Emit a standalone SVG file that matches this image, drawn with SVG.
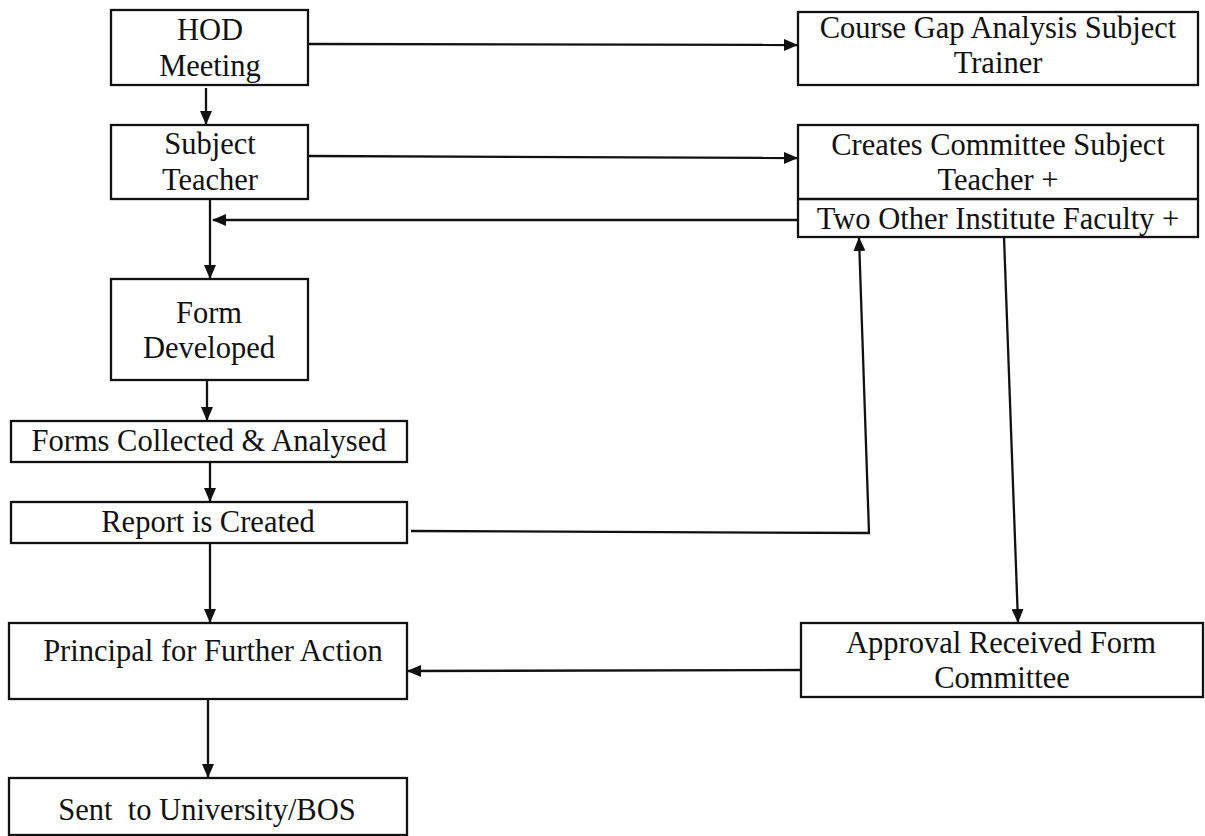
<svg xmlns="http://www.w3.org/2000/svg" width="1205" height="836" viewBox="0 0 1205 836">
<style>
.box{fill:#fff;stroke:#111;stroke-width:2.3}
.t{font-family:"Liberation Serif","Times New Roman",serif;font-size:30.5px;fill:#111;text-anchor:middle}
.c{fill:none;stroke:#111;stroke-width:2.3}
</style>
<defs>
<marker id="ah" markerUnits="userSpaceOnUse" markerWidth="14" markerHeight="12" refX="13" refY="6" orient="auto">
<path d="M0,0 L14,6 L0,12 z" fill="#111"/>
</marker>
</defs>
<rect width="1205" height="836" fill="#fff"/>
<g id="connectors">
<line class="c" x1="308" y1="44" x2="797" y2="45" marker-end="url(#ah)"/>
<line class="c" x1="206" y1="88" x2="206" y2="124" marker-end="url(#ah)"/>
<line class="c" x1="308" y1="156" x2="797" y2="158" marker-end="url(#ah)"/>
<line class="c" x1="798" y1="220" x2="213" y2="220" marker-end="url(#ah)"/>
<line class="c" x1="210" y1="199" x2="210" y2="278" marker-end="url(#ah)"/>
<line class="c" x1="207" y1="380" x2="207" y2="420" marker-end="url(#ah)"/>
<line class="c" x1="210" y1="462" x2="210" y2="501" marker-end="url(#ah)"/>
<polyline class="c" points="411,531 869,533 859,238" marker-end="url(#ah)"/>
<line class="c" x1="1004" y1="237" x2="1018" y2="622" marker-end="url(#ah)"/>
<line class="c" x1="210" y1="543" x2="210" y2="622" marker-end="url(#ah)"/>
<line class="c" x1="801" y1="670" x2="408" y2="671" marker-end="url(#ah)"/>
<line class="c" x1="208" y1="699" x2="208" y2="777" marker-end="url(#ah)"/>
</g>
<g id="hod">
<rect class="box" x="111" y="10" width="197" height="75"/>
<text class="t" x="210" y="40">HOD</text>
<text class="t" x="210" y="76">Meeting</text>
</g>
<g id="course-gap">
<rect class="box" x="798" y="12" width="400" height="73"/>
<text class="t" x="998" y="38">Course Gap Analysis Subject</text>
<text class="t" x="998" y="73">Trainer</text>
</g>
<g id="subject-teacher">
<rect class="box" x="111" y="125" width="197" height="74"/>
<text class="t" x="210" y="154">Subject</text>
<text class="t" x="210" y="190">Teacher</text>
</g>
<g id="committee">
<rect class="box" x="798" y="125" width="400" height="112"/>
<line class="c" x1="798" y1="199" x2="1198" y2="199"/>
<text class="t" x="998" y="155">Creates Committee Subject</text>
<text class="t" x="998" y="190">Teacher +</text>
<text class="t" x="998" y="229">Two Other Institute Faculty +</text>
</g>
<g id="form-developed">
<rect class="box" x="111" y="279" width="197" height="101"/>
<text class="t" x="209" y="323">Form</text>
<text class="t" x="209" y="358">Developed</text>
</g>
<g id="forms-collected">
<rect class="box" x="11" y="421" width="396" height="41"/>
<text class="t" x="209" y="451">Forms Collected &amp; Analysed</text>
</g>
<g id="report">
<rect class="box" x="11" y="502" width="396" height="41"/>
<text class="t" x="208" y="532">Report is Created</text>
</g>
<g id="principal">
<rect class="box" x="9" y="623" width="398" height="76"/>
<text class="t" x="213" y="661">Principal for Further Action</text>
</g>
<g id="approval">
<rect class="box" x="801" y="623" width="402" height="74"/>
<text class="t" x="1001" y="653">Approval Received Form</text>
<text class="t" x="1002" y="688">Committee</text>
</g>
<g id="sent">
<rect class="box" x="9" y="778" width="398" height="57"/>
<text class="t" x="207" y="820" xml:space="preserve">Sent  to University/BOS</text>
</g>
</svg>
